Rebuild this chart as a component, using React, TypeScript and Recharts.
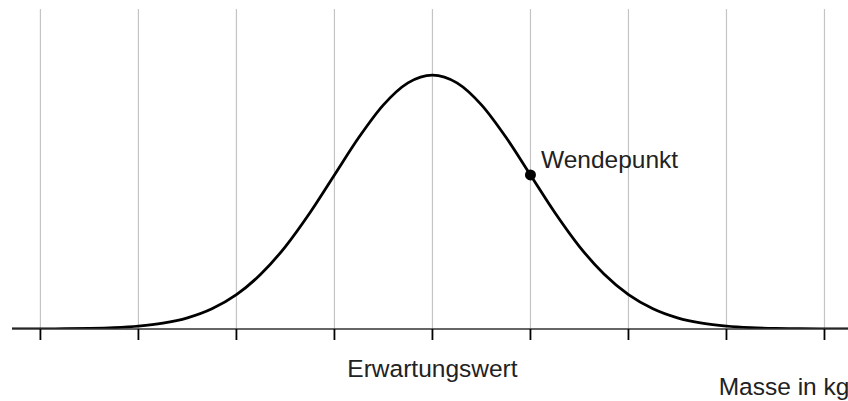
import React from 'react';
import { LineChart, Line, XAxis, YAxis, CartesianGrid, ReferenceDot, Label } from 'recharts';

// Standard deviations from the mean (x) and relative density (peak = 1)
const xValues = [
  -4.29, -4, -3.75, -3.5, -3.25, -3, -2.75, -2.5, -2.25, -2, -1.75, -1.5, -1.25, -1, -0.75, -0.5, -0.25,
  0, 0.25, 0.5, 0.75, 1, 1.25, 1.5, 1.75, 2, 2.25, 2.5, 2.75, 3, 3.25, 3.5, 3.75, 4, 4.24,
];
const densityValues = [
  0.0001, 0.0003, 0.0009, 0.0022, 0.0051, 0.0111, 0.0228, 0.0439, 0.0796, 0.1353, 0.2163, 0.3247, 0.4578,
  0.6065, 0.7548, 0.8825, 0.9692, 1, 0.9692, 0.8825, 0.7548, 0.6065, 0.4578, 0.3247, 0.2163, 0.1353,
  0.0796, 0.0439, 0.0228, 0.0111, 0.0051, 0.0022, 0.0009, 0.0003, 0.0001,
];
const tickValues = [-4, -3, -2, -1, 0, 1, 2, 3, 4];
const tickLabels = ['', '', '', '', 'Erwartungswert', '', '', '', ''];
const inflectionPoint = { x: 1, y: 0.6065, label: 'Wendepunkt' };
const axisTitle = 'Masse in kg';

const X_DOMAIN: [number, number] = [-4.29, 4.24];

const data = xValues.map((x, i) => ({ x, y: densityValues[i] }));

const FONT = '"Liberation Sans", Arial, Helvetica, sans-serif';
const FONT_SIZE = 24.5;
const TEXT_COLOR = '#222';

const Tick = (props: any) => {
  const { x, y, payload } = props;
  const idx = tickValues.indexOf(payload.value);
  const text = idx >= 0 ? tickLabels[idx] : '';
  if (!text) return <g />;
  return (
    <text x={x} y={y + 37} textAnchor="middle" fontFamily={FONT} fontSize={FONT_SIZE} fill={TEXT_COLOR}>
      {text}
    </text>
  );
};

const gridX = (props: any) => {
  const s = props?.xAxis?.scale;
  if (typeof s === 'function') return tickValues.map((v) => s(v));
  const off = props.offset;
  return tickValues.map(
    (v) => off.left + ((v - X_DOMAIN[0]) / (X_DOMAIN[1] - X_DOMAIN[0])) * off.width
  );
};

export default function App() {
  return (
    <div style={{ width: 840, height: 393, paddingLeft: 8, paddingTop: 8, overflow: 'hidden' }}>
      <style>{'html,body{overflow:hidden;margin:0;padding:0}'}</style>
      <LineChart width={840} height={393} data={data} margin={{ top: 1, right: 0, bottom: 12, left: 4 }}>
        <CartesianGrid
          horizontal={false}
          stroke="#c4c4c4"
          strokeWidth={1.2}
          verticalCoordinatesGenerator={gridX}
        />
        <XAxis
          dataKey="x"
          type="number"
          domain={X_DOMAIN}
          ticks={tickValues}
          interval={0}
          allowDataOverflow
          height={60}
          tickSize={11}
          tickMargin={0}
          axisLine={{ stroke: '#333', strokeWidth: 1.6 }}
          tickLine={{ stroke: '#000', strokeWidth: 1.8 }}
          tick={<Tick />}
        >
          <Label
            content={(p: any) => {
              const vb = p.viewBox || { x: 4, y: 321, width: 836, height: 60 };
              return (
                <text x={vb.x + vb.width - 129.3} y={vb.y + 66} fontFamily={FONT} fontSize={FONT_SIZE} fill={TEXT_COLOR}>
                  {axisTitle}
                </text>
              );
            }}
          />
        </XAxis>
        <YAxis hide domain={[0, 1.26]} type="number" allowDataOverflow />
        <Line
          type="monotone"
          dataKey="y"
          stroke="#000"
          strokeWidth={2.8}
          dot={false}
          activeDot={false}
          isAnimationActive={false}
        />
        <ReferenceDot x={inflectionPoint.x} y={inflectionPoint.y} r={5.5} fill="#000" stroke="none">
          <Label
            content={(p: any) => {
              const vb = p.viewBox || { x: 0, y: 0, width: 0, height: 0 };
              const cx = vb.x + vb.width / 2;
              const cy = vb.y + vb.height / 2;
              return (
                <text x={cx + 10.5} y={cy - 6.5} fontFamily={FONT} fontSize={FONT_SIZE} fill={TEXT_COLOR}>
                  {inflectionPoint.label}
                </text>
              );
            }}
          />
        </ReferenceDot>
      </LineChart>
    </div>
  );
}
